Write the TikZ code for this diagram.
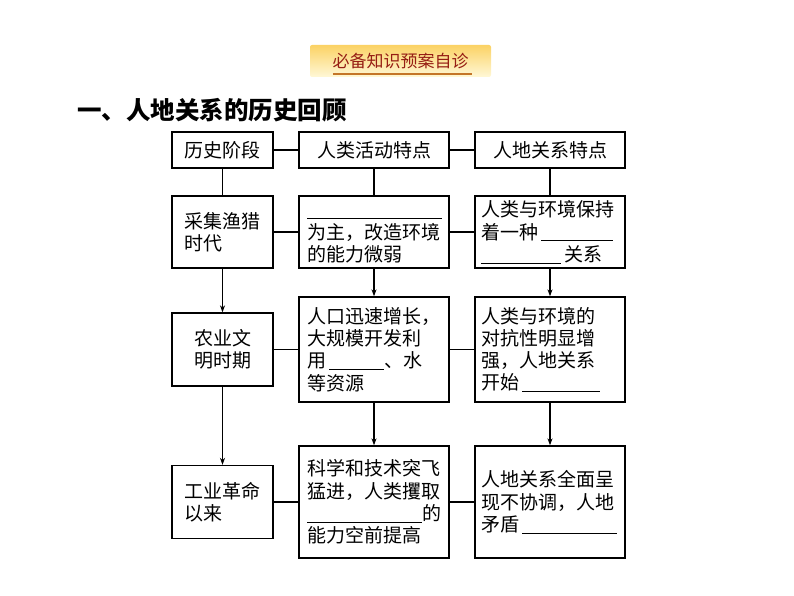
\documentclass[tikz,border=0pt]{standalone}
\usepackage{fontspec}
\newfontfamily\cjk{Noto Sans CJK SC}
\usetikzlibrary{arrows.meta}
\definecolor{bannertop}{RGB}{251,210,100}
\definecolor{bannerbot}{RGB}{255,248,215}
\definecolor{bannertext}{RGB}{150,30,20}
\definecolor{bannerline}{RGB}{196,118,40}
\newcommand{\blank}[1]{\rule[-2pt]{#1pt}{0.8pt}}

\begin{document}
\begin{tikzpicture}
            [
            x=1pt, y=-1pt,
            box/.style={draw,line width=1.3pt,inner ysep=0pt,align=left,
              font=\cjk\fontsize{19}{22.3}\selectfont},
            colA/.style={box,text width=77pt,inner xsep=12pt},
            colB/.style={box,text width=134pt,inner xsep=8pt},
            colC/.style={box,text width=138pt,inner xsep=6pt},
            link/.style={line width=1.4pt},
            arr/.style={line width=1.4pt,-{Stealth[length=7pt,width=5pt]}}
            ]
        \useasboundingbox (0,0) rectangle (794,596);
        % banner and title
        \node[rounded corners=2pt,top color=bannertop,bottom color=bannerbot,
          minimum width=181pt,minimum height=32pt,text=bannertext,
          font=\cjk\fontsize{17}{20}\selectfont] (banner) at (400.5,61) {必备知识预案自诊};
        \draw[bannerline,line width=1.4pt] ([xshift=23pt,yshift=3pt]banner.south west)
          -- ([xshift=-19pt,yshift=3pt]banner.south east);
        \node[anchor=west,inner sep=0pt,font=\cjk\bfseries\fontsize{24.5}{28}\selectfont]
          (title) at (77,110) {一、人地关系的历史回顾};
        % header row
        \node[colA,align=center,minimum height=36pt] (h1) at (222.5,150) {历史阶段};
        \node[colB,align=center,minimum height=36pt] (h2) at (374,150) {人类活动特点};
        \node[colC,align=center,minimum height=36pt] (h3) at (550,150) {人地关系特点};
        % row 1
        \node[colA,minimum height=72pt] (a1) at (222.5,232) {采集渔猎\\时代};
        \node[colB,minimum height=72pt] (b1) at (374,232)
          {\blank{135}\vphantom{人}\\为主，改造环境\\的能力微弱};
        \node[colC,minimum height=72pt] (c1) at (550,232)
          {人类与环境保持\\着一种\,\blank{72}\\\blank{80}\,关系};
        % row 2
        \node[colA,align=center,minimum height=73pt] (a2) at (222.5,349.5) {农业文\\明时期};
        \node[colB,minimum height=105pt] (b2) at (374,349.5)
          {人口迅速增长，\\大规模开发利\\用\,\blank{55}、水\\等资源};
        \node[colC,minimum height=105pt] (c2) at (550,349.5)
          {人类与环境的\\对抗性明显增\\强，人地关系\\开始\,\blank{78}};
        % row 3
        \node[colA,minimum height=73pt] (a3) at (222.5,502) {工业革命\\以来};
        \node[colB,minimum height=112pt] (b3) at (374,502)
          {科学和技术突飞\\猛进，人类攫取\\\blank{115}的\\能力空前提高};
        \node[colC,minimum height=112pt] (c3) at (550,502)
          {人地关系全面呈\\现不协调，人地\\矛盾\,\blank{95}};
        % links
        \draw[link] (h1) -- (h2);
        \draw[link] (h2) -- (h3);
        \draw[link] (h1) -- (a1);
        \draw[link] (h2) -- (b1);
        \draw[link] (h3) -- (c1);
        \draw[link] (a1) -- (b1);
        \draw[link] (b1) -- (c1);
        \draw[link] (a2) -- (b2);
        \draw[link] (b2) -- (c2);
        \draw[link] (a3) -- (b3);
        \draw[link] (b3) -- (c3);
        \draw[arr] (a1) -- (a2);
        \draw[arr] (b1) -- (b2);
        \draw[arr] (c1) -- (c2);
        \draw[arr] (a2) -- (a3);
        \draw[arr] (b2) -- (b3);
        \draw[arr] (c2) -- (c3);
        \end{tikzpicture}
\end{document}
